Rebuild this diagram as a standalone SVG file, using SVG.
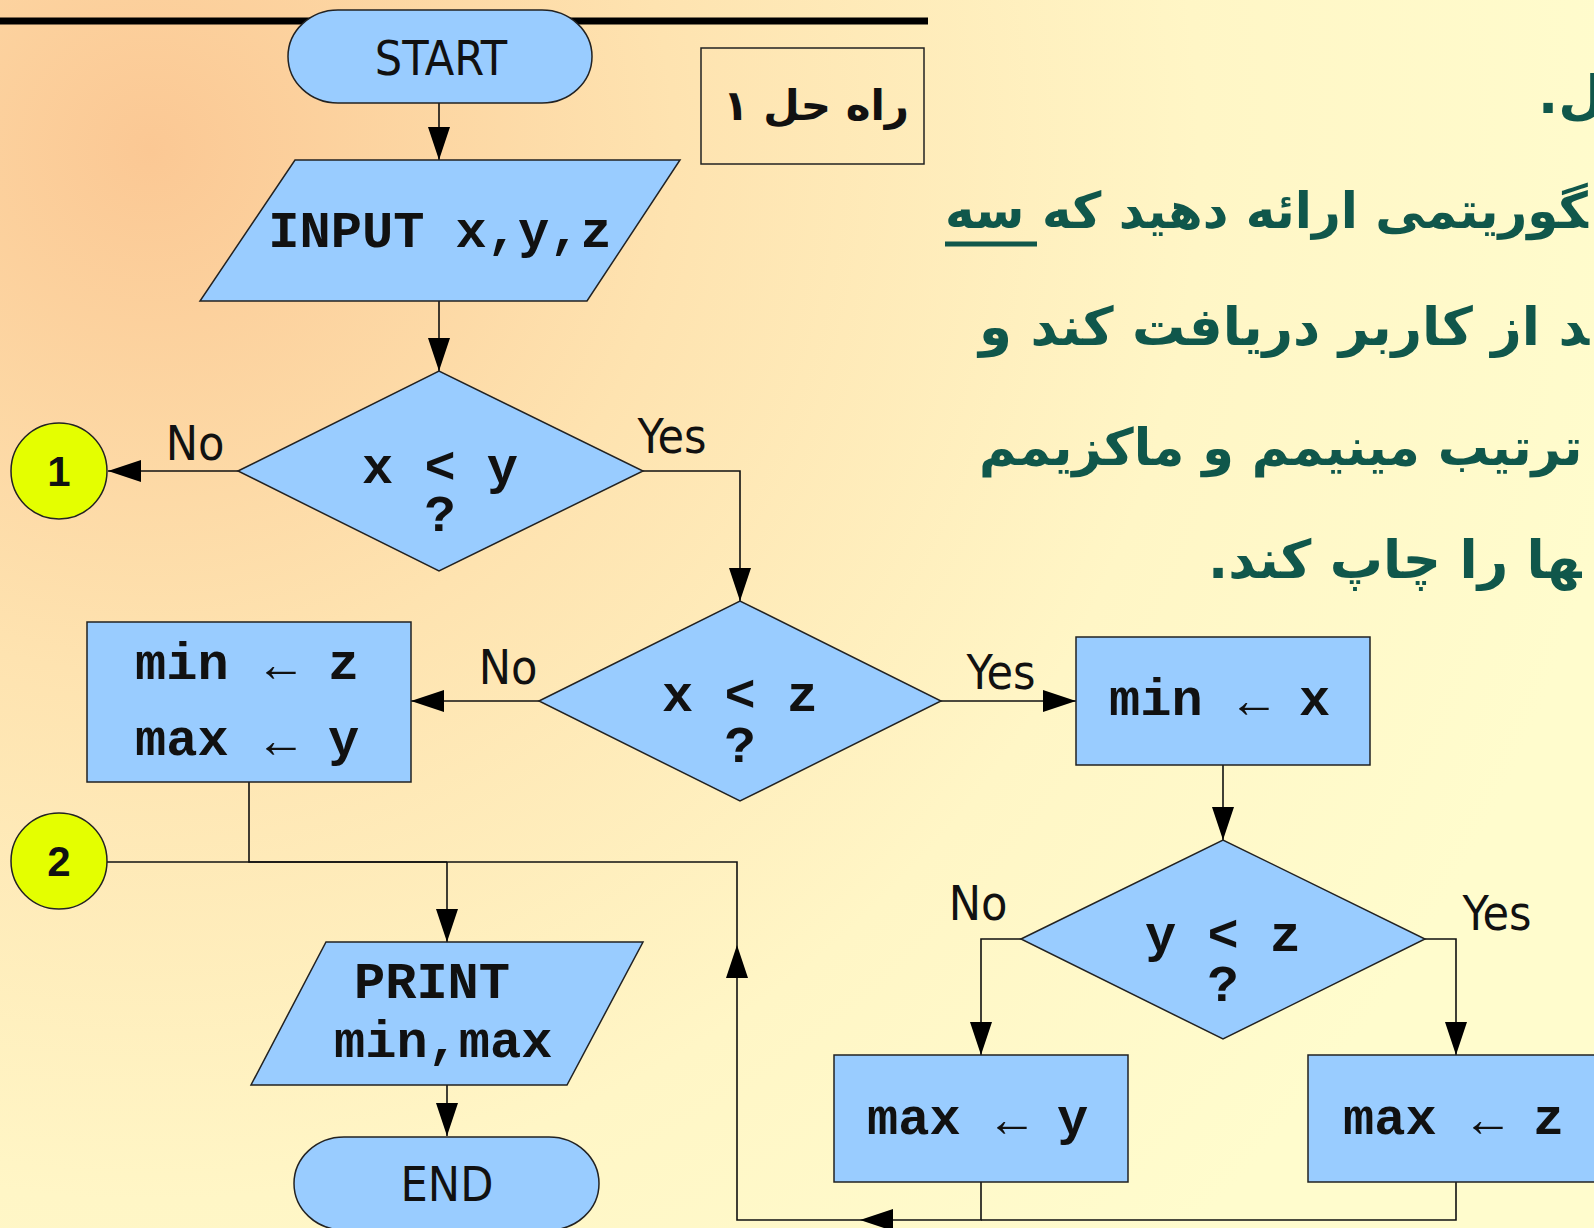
<svg xmlns="http://www.w3.org/2000/svg" width="1594" height="1228" viewBox="0 0 1594 1228">
<defs>
<radialGradient id="bg" cx="150" cy="150" r="1500" gradientUnits="userSpaceOnUse">
<stop offset="0" stop-color="#FBC894"/>
<stop offset="0.35" stop-color="#FEE3B0"/>
<stop offset="0.7" stop-color="#FFF6C6"/>
<stop offset="1" stop-color="#FFFCCD"/>
</radialGradient>
<marker id="ah" markerUnits="userSpaceOnUse" markerWidth="34" markerHeight="22" refX="33" refY="11" orient="auto">
<path d="M0,0 L33,11 L0,22 z" fill="#000"/>
</marker>
<style>
.shape{fill:#99CCFF;stroke:#222;stroke-width:1.5}
.conn{fill:#E4FF00;stroke:#222;stroke-width:1.5}
.line{fill:none;stroke:#111;stroke-width:1.6}
.arr{marker-end:url(#ah)}
.mono{font-family:"Liberation Mono","Courier New",monospace;font-weight:bold;font-size:52px;fill:#111}
.sym{font-family:"Liberation Serif","Times New Roman",serif;font-size:50px;fill:#111;text-anchor:middle}
.lab{font-family:"Liberation Sans Narrow","DejaVu Sans Condensed","Liberation Sans",sans-serif;font-size:48px;fill:#111}
.num{font-family:"Liberation Sans","DejaVu Sans",sans-serif;font-weight:bold;font-size:42px;fill:#111;text-anchor:middle}
.fa{font-family:"DejaVu Sans",sans-serif;font-weight:bold;font-size:53px;fill:#10574B}
</style>
</defs>
<rect width="1594" height="1228" fill="url(#bg)"/>
<line x1="0" y1="21" x2="928" y2="21" stroke="#000" stroke-width="7"/>

<g id="question">
<text class="fa" x="1538" y="113" direction="rtl" text-anchor="end">&#x200D;ل.</text>
<text class="fa" x="945" y="228" direction="rtl" text-anchor="end" style="font-size:50px">&#x200D;گوریتمی ارائه دهید که سه</text>
<line x1="945" y1="244" x2="1037" y2="244" stroke="#10574B" stroke-width="5"/>
<text class="fa" x="979" y="345" direction="rtl" text-anchor="end">&#x200D;د از کاربر دریافت کند و</text>
<text class="fa" x="979" y="465" direction="rtl" text-anchor="end" style="font-size:51px">ترتیب مینیمم و ماکزیمم</text>
<text class="fa" x="1208" y="578" direction="rtl" text-anchor="end">&#x200D;ها را چاپ کند.</text>
</g>

<g id="solution-label">
<rect x="701" y="48" width="223" height="116" fill="none" stroke="#222" stroke-width="1.5"/>
<text x="816" y="120" text-anchor="middle" direction="rtl" font-family="DejaVu Sans, sans-serif" font-weight="bold" font-size="42" fill="#111">راه حل ۱</text>
</g>

<g id="connectors">
<path class="line arr" d="M439,103 V160"/>
<path class="line arr" d="M439,301 V371"/>
<path class="line arr" d="M238,471 H108"/>
<path class="line arr" d="M643,471 H740 V601"/>
<path class="line arr" d="M539,701 H411"/>
<path class="line arr" d="M941,701 H1076"/>
<path class="line arr" d="M1223,765 V840"/>
<path class="line arr" d="M1021,939 H981 V1055"/>
<path class="line arr" d="M1425,939 H1456 V1055"/>
<path class="line" d="M1456,1182 V1220 H981"/>
<path class="line arr" d="M981,1182 V1220 H860"/>
<path class="line arr" d="M860,1220 H737 V945"/>
<path class="line" d="M737,945 V862 H447"/>
<path class="line" d="M249,782 V862 H447"/>
<path class="line" d="M107,862 H447"/>
<path class="line arr" d="M447,862 V942"/>
<path class="line arr" d="M447,1085 V1136"/>
</g>

<g id="start">
<rect class="shape" x="288" y="10" width="304" height="93" rx="50" ry="46.5"/>
<text class="lab" x="441" y="75" text-anchor="middle">START</text>
</g>

<g id="input">
<polygon class="shape" points="295,160 680,160 587,301 200,301"/>
<text class="mono" x="440" y="247" text-anchor="middle">INPUT x,y,z</text>
</g>

<g id="dec1">
<polygon class="shape" points="238,471 439,371 643,471 439,571"/>
<text class="mono" x="440" y="483" text-anchor="middle">x &lt; y</text>
<text class="mono" x="440" y="531" text-anchor="middle">?</text>
</g>
<text class="lab" x="195" y="460" text-anchor="middle">No</text>
<text class="lab" x="672" y="453" text-anchor="middle">Yes</text>

<g id="c1">
<circle class="conn" cx="59" cy="471" r="48"/>
<text class="num" x="59" y="486">1</text>
</g>

<g id="dec2">
<polygon class="shape" points="539,701 740,601 941,701 740,801"/>
<text class="mono" x="740" y="711" text-anchor="middle">x &lt; z</text>
<text class="mono" x="740" y="762" text-anchor="middle">?</text>
</g>
<text class="lab" x="508" y="684" text-anchor="middle">No</text>
<text class="lab" x="1001" y="689" text-anchor="middle">Yes</text>

<g id="box-minz">
<rect class="shape" x="87" y="622" width="324" height="160"/>
<text class="mono" x="135" y="679">min</text>
<text class="sym" x="281" y="681">←</text>
<text class="mono" x="328" y="679">z</text>
<text class="mono" x="135" y="755">max</text>
<text class="sym" x="281" y="757">←</text>
<text class="mono" x="328" y="755">y</text>
</g>

<g id="box-minx">
<rect class="shape" x="1076" y="637" width="294" height="128"/>
<text class="mono" x="1109" y="715">min</text>
<text class="sym" x="1254" y="717">←</text>
<text class="mono" x="1299" y="715">x</text>
</g>

<g id="dec3">
<polygon class="shape" points="1021,939 1223,840 1425,939 1223,1039"/>
<text class="mono" x="1223" y="951" text-anchor="middle">y &lt; z</text>
<text class="mono" x="1223" y="1001" text-anchor="middle">?</text>
</g>
<text class="lab" x="978" y="920" text-anchor="middle">No</text>
<text class="lab" x="1497" y="930" text-anchor="middle">Yes</text>

<g id="box-maxy">
<rect class="shape" x="834" y="1055" width="294" height="127"/>
<text class="mono" x="867" y="1134">max</text>
<text class="sym" x="1012" y="1136">←</text>
<text class="mono" x="1057" y="1134">y</text>
</g>

<g id="box-maxz">
<rect class="shape" x="1308" y="1055" width="300" height="127"/>
<text class="mono" x="1343" y="1134">max</text>
<text class="sym" x="1488" y="1136">←</text>
<text class="mono" x="1533" y="1134">z</text>
</g>

<g id="c2">
<circle class="conn" cx="59" cy="861" r="48"/>
<text class="num" x="59" y="876">2</text>
</g>

<g id="print">
<polygon class="shape" points="326,942 643,942 567,1085 251,1085"/>
<text class="mono" x="354" y="998">PRINT</text>
<text class="mono" x="334" y="1057">min,max</text>
</g>

<g id="end">
<rect class="shape" x="294" y="1137" width="305" height="93" rx="50" ry="46.5"/>
<text class="lab" x="447" y="1201" text-anchor="middle">END</text>
</g>
</svg>
